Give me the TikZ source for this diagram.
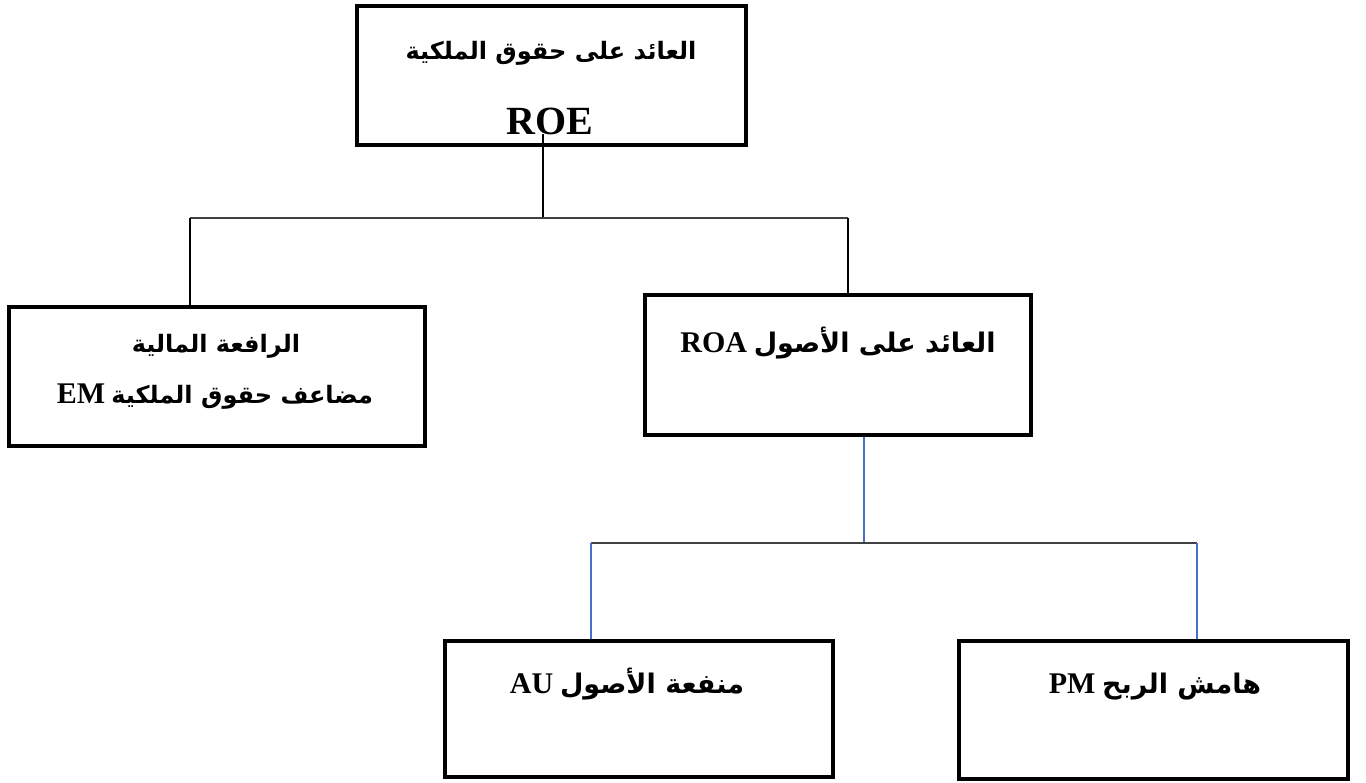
\documentclass[tikz,border=0pt]{standalone}
\usepackage{fontspec}
\setmainfont{Liberation Serif}
\newfontfamily\arabicfont[Script=Arabic]{DejaVu Sans}
\TeXXeTstate=1
\definecolor{linkblue}{RGB}{68,114,196}
\definecolor{linkgray}{RGB}{64,64,64}
\newcommand\ARtxt[1]{{\arabicfont\bfseries\beginR #1\endR}}
\newcommand\LTtxt[1]{{\fontsize{30}{34}\selectfont\bfseries #1}}
\begin{document}
\begin{tikzpicture}[x=1pt,y=-1pt,
  box/.style={draw=black,line width=4.5pt,inner sep=0pt},
  lbl/.style={inner sep=0pt,anchor=base,font=\fontsize{24}{28}\selectfont},
  lbm/.style={inner sep=0pt,anchor=base,font=\fontsize{27}{31}\selectfont},
  big/.style={inner sep=0pt,anchor=base,font=\fontsize{40}{44}\selectfont},
  blk/.style={draw=black,line width=1.3pt},
  gry/.style={draw=linkgray,line width=1.3pt},
  blu/.style={draw=linkblue,line width=1.3pt}]
\useasboundingbox (0,0) rectangle (1366,783);
% boxes
\node[box,minimum width=389pt,minimum height=139pt] (top) at (551.5,75.5) {};
\node[box,minimum width=416pt,minimum height=139pt] (left) at (217,376.5) {};
\node[box,minimum width=386pt,minimum height=140pt] (mid) at (838,365) {};
\node[box,minimum width=388pt,minimum height=136pt] (bl) at (639,709) {};
\node[box,minimum width=389pt,minimum height=138pt] (br) at (1153.5,710) {};
% texts
\node[lbl] (t1) at (551,60) {\ARtxt{العائد على حقوق الملكية}};
\node[big] (t2) at (550,135) {\bfseries ROE};
\node[lbl] (t3) at (216,353) {\ARtxt{الرافعة المالية}};
\node[lbl] (t4) at (215,404) {\LTtxt{EM} \ARtxt{مضاعف حقوق الملكية}};
\node[lbm] (t5) at (838,353) {\LTtxt{ROA} \ARtxt{العائد على الأصول}};
\node[lbm] (t6) at (627,693) {\LTtxt{AU} \ARtxt{منفعة الأصول}};
\node[lbm] (t7) at (1155,693) {\LTtxt{PM} \ARtxt{هامش الربح}};
% connectors
\coordinate (j1) at (543,218);
\coordinate (jl) at (190,218);
\coordinate (jr) at (848,218);
\coordinate (j2) at (864,543);
\coordinate (kl) at (591,543);
\coordinate (kr) at (1197,543);
\draw[blk] ([yshift=13pt]top.south -| j1) -- (j1);
\draw[gry] (jl) -- (jr);
\draw[blk] (jl) -- (left.north -| jl);
\draw[blk] (jr) -- (mid.north -| jr);
\draw[blu] (mid.south -| j2) -- (j2);
\draw[gry] (kl) -- (kr);
\draw[blu] (kl) -- (bl.north -| kl);
\draw[blu] (kr) -- (br.north -| kr);
\end{tikzpicture}
\end{document}
